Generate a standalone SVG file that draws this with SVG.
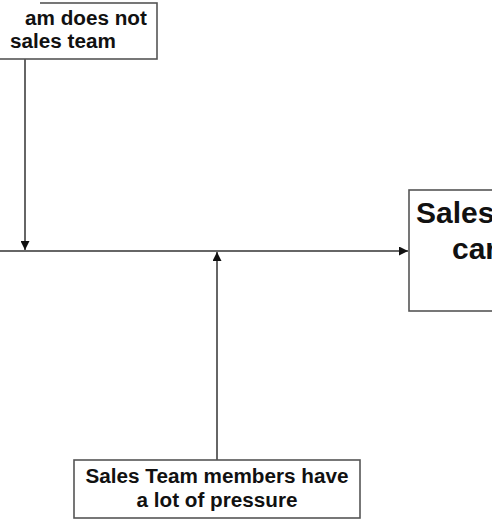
<svg xmlns="http://www.w3.org/2000/svg" width="492" height="520" viewBox="0 0 492 520">
<style>
.box{fill:#fff;stroke:#555;stroke-width:1.6}
.t{font-family:"Liberation Sans",Arial,sans-serif;font-weight:bold;fill:#111}
.c{fill:none;stroke:#666;stroke-width:2}
</style>
<defs>
<marker id="ah" viewBox="0 0 10 10" refX="10" refY="5" markerWidth="10" markerHeight="9" markerUnits="userSpaceOnUse" orient="auto">
<path d="M0,0 L10,5 L0,10 Z" fill="#111"/>
</marker>
</defs>
<rect width="492" height="520" fill="#fff"/>
<g id="connectors">
<line class="c" x1="0" y1="251" x2="408" y2="251" marker-end="url(#ah)"/>
<line class="c" x1="25" y1="59" x2="25" y2="250" marker-end="url(#ah)"/>
<line class="c" x1="217" y1="460" x2="217" y2="252" marker-end="url(#ah)"/>
</g>
<g id="top-cause">
<rect class="box" x="-10" y="3" width="167" height="56"/>
<rect x="0" y="0" width="40" height="18" fill="#fff"/>
<text class="t" x="25" y="25" font-size="20.7">am does not</text>
<text class="t" x="10" y="48" font-size="20.7">sales team</text>
</g>
<g id="effect">
<rect class="box" x="409" y="190" width="100" height="121"/>
<text class="t" x="416" y="223" font-size="30">Sales</text>
<text class="t" x="452" y="259" font-size="30">car</text>
</g>
<g id="bottom-cause">
<rect class="box" x="74" y="460" width="286" height="58"/>
<text class="t" x="217" y="483" font-size="20.7" text-anchor="middle">Sales Team members have</text>
<text class="t" x="217" y="507" font-size="20.7" text-anchor="middle">a lot of pressure</text>
</g>
</svg>
